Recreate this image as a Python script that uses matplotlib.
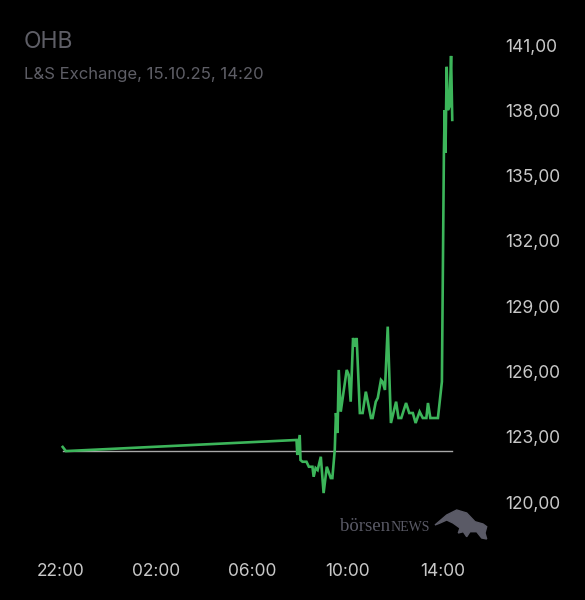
import matplotlib
matplotlib.use("Agg")
import matplotlib.pyplot as plt
from matplotlib.patches import Polygon

# intraday quotes, time of day and price in EUR
times = ["22:05", "22:13", "07:52", "07:54", "08:00", "08:02", "08:07", "08:17",
         "08:23", "08:32", "08:35", "08:40", "08:45", "08:53", "09:00", "09:08",
         "09:18", "09:22", "09:28", "09:31", "09:35", "09:38", "09:43", "09:58",
         "10:03", "10:08", "10:14", "10:19", "10:23", "10:31", "10:38", "10:46",
         "10:59", "11:03", "11:11", "11:16", "11:24", "11:28", "11:34", "11:41",
         "11:49", "12:02", "12:08", "12:15", "12:27", "12:35", "12:44", "12:51",
         "13:01", "13:09", "13:18", "13:22", "13:28", "13:47", "13:57", "14:02",
         "14:04", "14:06", "14:09", "14:12", "14:16", "14:20", "14:23"]
prices = [122.53, 122.34, 122.85, 122.16, 123.08, 121.93, 121.85, 121.85,
          121.62, 121.62, 121.16, 121.56, 121.47, 122.08, 120.41, 121.62,
          121.10, 121.10, 122.39, 124.09, 123.17, 126.07, 124.15, 126.07,
          125.84, 124.61, 127.54, 127.14, 127.54, 124.09, 124.09, 125.07,
          123.86, 123.86, 124.61, 124.78, 125.61, 125.53, 125.15, 128.06,
          123.63, 124.61, 123.86, 123.86, 124.55, 124.09, 124.09, 123.63,
          124.15, 123.86, 123.86, 124.55, 123.86, 123.86, 125.53, 136.04,
          138.01, 136.04, 140.00, 138.01, 138.17, 140.50, 137.56]
prev_close = 122.34

xtick_labels = ["22:00", "02:00", "06:00", "10:00", "14:00"]
yticks = [120, 123, 126, 129, 132, 135, 138, 141]


def hours(t):
    # hours since 22:00 of the previous day
    h, m = map(int, t.split(":"))
    h = h + m / 60
    return h - 22 if h >= 22 else h + 2


x = [hours(t) for t in times]

fig = plt.figure(figsize=(5.85, 6.0), dpi=100)
fig.patch.set_facecolor("black")
ax = fig.add_axes([20 / 585, 55 / 600, 460 / 585, 525 / 600])
ax.set_facecolor("black")

ax.plot([x[0], x[-1]], [prev_close, prev_close], color="#a8a8a8", lw=1.0)
ax.plot(x, prices, color="#3cb55a", lw=1.9, solid_joinstyle="miter")

ax.set_xlim(-1.703, 17.544)
ax.set_ylim(118.024, 142.151)
for s in ax.spines.values():
    s.set_visible(False)

ax.set_xticks([hours(t) for t in xtick_labels])
ax.set_xticklabels(xtick_labels)
ax.set_yticks(yticks)
ax.set_yticklabels([f"{v:.2f}".replace(".", ",") for v in yticks])
ax.yaxis.tick_right()
ax.tick_params(length=0, colors="#c8c8c8", labelsize=12.5)
ax.tick_params(axis="y", pad=18)
ax.tick_params(axis="x", pad=13)
for lab in ax.get_xticklabels() + ax.get_yticklabels():
    lab.set_fontfamily("Inter")

fig.text(24 / 585, 1 - 42 / 600, "OHB", color="#5e5e66", fontsize=16.5,
         family="Inter", va="center", ha="left")
fig.text(24 / 585, 1 - 75 / 600, "L&S Exchange, 15.10.25, 14:20", color="#5e5e66",
         fontsize=12, family="Inter", va="center", ha="left")

# watermark: börsenNEWS + bull
wm = "#5a5a66"
t1 = fig.text(340 / 585, 1 - 531 / 600, "börsen", color=wm, fontsize=13.5,
              family="Liberation Serif", va="baseline", ha="left")
fig.canvas.draw()
bb = t1.get_window_extent()
fig.text(bb.x1 / 585, 1 - 531 / 600, "NEWS", color=wm, fontsize=10,
         family="Liberation Serif", va="baseline", ha="left")
bull = [(435, 525), (446.7, 515), (456.7, 510), (466.7, 513), (475, 521.7),
        (483, 524), (486.7, 526.7), (485, 533), (486.7, 539), (481.7, 538),
        (476.7, 531.7), (470, 531.7), (466.7, 536.7), (463.3, 531.7),
        (458.3, 533), (460, 528), (453, 523), (446.7, 520), (440, 523)]
fig.patches.append(Polygon([(px / 585, 1 - py / 600) for px, py in bull],
                           closed=True, color=wm, transform=fig.transFigure))

fig.savefig("out.png", dpi=100, facecolor="black")
